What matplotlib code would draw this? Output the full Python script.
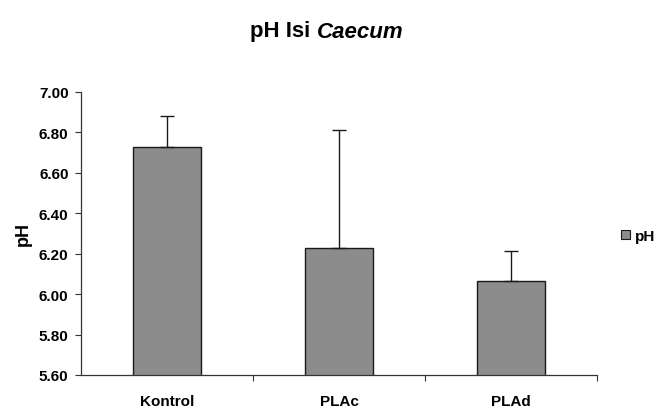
import matplotlib
matplotlib.use("Agg")
import matplotlib.pyplot as plt
from matplotlib.patches import Patch
import numpy as np

categories = ["Kontrol", "PLAc", "PLAd"]
ph_values = [6.73, 6.23, 6.067]
ph_err = [0.15, 0.58, 0.148]
yticks = [5.60, 5.80, 6.00, 6.20, 6.40, 6.60, 6.80, 7.00]

plt.rcParams['font.family'] = ['Liberation Sans', 'DejaVu Sans']

W, H = 662, 410
fig = plt.figure(figsize=(W / 100, H / 100), dpi=100)
ax = fig.add_axes([81 / W, 1 - 376 / H, (597 - 81) / W, (376 - 93) / H])

x = np.arange(len(categories))
ax.bar(x, ph_values, width=0.4, color="#8c8c8c", edgecolor="#1a1a1a", linewidth=1.0,
       yerr=[np.zeros(len(ph_err)), ph_err], error_kw=dict(ecolor="#1a1a1a", elinewidth=1.0, capsize=5, capthick=1.0),
       zorder=2)

ax.set_xlim(-0.5, len(categories) - 0.5)
ax.set_ylim(5.60, 7.00)
ax.set_yticks(yticks)
ax.set_yticklabels([f"{v:.2f}" for v in yticks], fontsize=11, fontweight="bold")
ax.set_xticks(x)
ax.set_xticklabels(categories, fontsize=11, fontweight="bold")
ax.set_xticks(np.arange(0.5, len(categories) - 0.4, 1.0), minor=True)
ax.tick_params(axis="x", which="major", length=0, pad=14)
ax.tick_params(axis="x", which="minor", length=4, width=0.8, direction="out", color="#333333")
ax.tick_params(axis="y", length=4, width=0.8, direction="out", color="#333333", pad=5)
for s in ["top", "right"]:
    ax.spines[s].set_visible(False)
for s in ["left", "bottom"]:
    ax.spines[s].set_color("#333333")
    ax.spines[s].set_linewidth(0.9)
ax.set_ylabel("pH", fontsize=13, fontweight="bold", labelpad=5)

# Title: bold "pH Isi " + bold italic "Caecum"
fig.canvas.draw()
renderer = fig.canvas.get_renderer()
t1 = fig.text(0, 0, "pH Isi ", fontsize=16, fontweight="bold")
t2 = fig.text(0, 0, "Caecum", fontsize=16, fontweight="bold", style="italic")
w1 = t1.get_window_extent(renderer).width
w2 = t2.get_window_extent(renderer).width
start = 327 - (w1 + w2) / 2
ty = 1 - 32 / H
t1.set_position((start / W, ty)); t1.set_va("center")
t2.set_position(((start + w1) / W, ty)); t2.set_va("center")

handles = [Patch(facecolor="#8c8c8c", edgecolor="#1a1a1a", linewidth=0.8, label="pH")]
fig.legend(handles=handles, loc="center left", bbox_to_anchor=(621 / W, 1 - 237 / H),
           frameon=False, prop=dict(size=11, weight="bold"), handlelength=0.6, handleheight=0.6,
           handletextpad=0.3, borderpad=0, borderaxespad=0)

fig.savefig("out.png", dpi=100, facecolor="white")
